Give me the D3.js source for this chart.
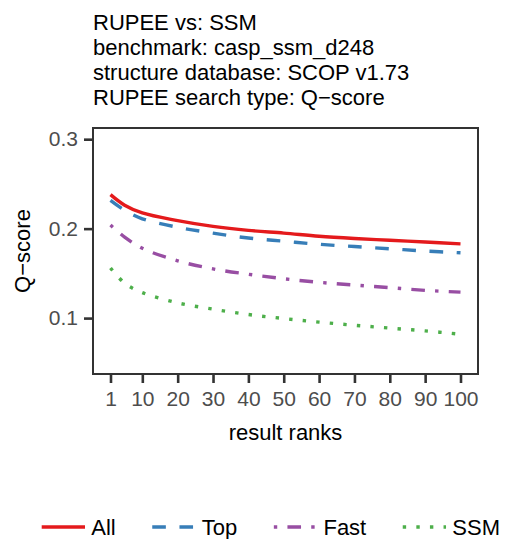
<!DOCTYPE html>
<html>
<head>
<meta charset="utf-8">
<script src="https://cdn.jsdelivr.net/npm/d3@7"></script>
<style>
  body { margin: 0; background: #fff; }
  svg text { font-family: "Liberation Sans", Arial, Helvetica, sans-serif; }
</style>
</head>
<body>
<div id="chart"></div>
<script>
// data
var ranks = [1, 5, 10, 20, 30, 40, 50, 60, 70, 80, 90, 100];
var allScores  = [0.238, 0.2262, 0.2175, 0.209, 0.2025, 0.198, 0.195, 0.1915, 0.189, 0.187, 0.185, 0.183];
var topScores  = [0.2315, 0.2205, 0.211, 0.2015, 0.195, 0.1895, 0.186, 0.1825, 0.180, 0.1775, 0.175, 0.173];
var fastScores = [0.204, 0.1905, 0.178, 0.164, 0.155, 0.149, 0.144, 0.140, 0.137, 0.134, 0.131, 0.129];
var ssmScores  = [0.156, 0.139, 0.1285, 0.117, 0.110, 0.104, 0.0995, 0.0955, 0.092, 0.0888, 0.0857, 0.082];
var seriesNames = ["All", "Top", "Fast", "SSM"];
var xTicks = [1, 10, 20, 30, 40, 50, 60, 70, 80, 90, 100];
var yTicks = [0.1, 0.2, 0.3];
var titleLines = ["RUPEE vs: SSM", "benchmark: casp_ssm_d248", "structure database: SCOP v1.73", "RUPEE search type: Q\u2212score"];

var width = 506, height = 539;
var colors = ["#E41A1C", "#377EB8", "#984EA3", "#4DAF4A"];
var lw = 3.4;
var dashes = [null, (4 * lw) + "," + (4 * lw), lw + "," + (3 * lw) + "," + (4 * lw) + "," + (3 * lw), lw + "," + (3 * lw)];

var svg = d3.select("#chart").append("svg")
    .attr("width", width)
    .attr("height", height);

var panelLeft = 93, panelRight = 478, panelTop = 128, panelBottom = 374;

// ggplot style 5% expansion, y limits 0.05..0.3
var xScale = d3.scaleLinear()
    .domain([1 - 4.95, 100 + 4.95])
    .range([panelLeft, panelRight]);
var yScale = d3.scaleLinear()
    .domain([0.0375, 0.3125])
    .range([panelBottom, panelTop]);

// title
svg.append("g").selectAll("text")
    .data(titleLines)
    .enter().append("text")
    .attr("x", panelLeft)
    .attr("y", function (d, i) { return 29.5 + 25 * i; })
    .attr("font-size", 22)
    .attr("fill", "#000")
    .text(function (d) { return d; });

// axes
var xAxis = svg.append("g")
    .attr("transform", "translate(0," + (panelBottom + 1) + ")")
    .call(d3.axisBottom(xScale).tickValues(xTicks).tickSize(8).tickPadding(8));
var yAxis = svg.append("g")
    .attr("transform", "translate(" + (panelLeft - 1) + ",0)")
    .call(d3.axisLeft(yScale).tickValues(yTicks).tickFormat(d3.format(".1f")).tickSize(8).tickPadding(6));

[xAxis, yAxis].forEach(function (ax) {
    ax.select(".domain").remove();
    ax.selectAll(".tick line").attr("stroke", "#333").attr("stroke-width", 2.6);
    ax.selectAll(".tick text")
        .attr("fill", "#4D4D4D")
        .attr("font-size", 21)
        .style("font-family", "Liberation Sans, Arial, sans-serif");
});

// lines
var line_generator = d3.line()
    .x(function (d) { return xScale(d.x); })
    .y(function (d) { return yScale(d.y); })
    .curve(d3.curveCatmullRom.alpha(0.5));

var allSeries = [allScores, topScores, fastScores, ssmScores];
var plot_g = svg.append("g");
for (let i in allSeries) {
    let line_data = ranks.map(function (r, j) { return { x: r, y: allSeries[i][j] }; });
    plot_g.append("path")
        .attr("d", line_generator(line_data))
        .attr("fill", "none")
        .attr("stroke", colors[i])
        .attr("stroke-width", lw)
        .attr("stroke-dasharray", dashes[i]);
}

// panel border
svg.append("rect")
    .attr("x", panelLeft)
    .attr("y", panelTop)
    .attr("width", panelRight - panelLeft)
    .attr("height", panelBottom - panelTop)
    .attr("fill", "none")
    .attr("stroke", "#333")
    .attr("stroke-width", 2);

// axis titles
svg.append("text")
    .attr("x", (panelLeft + panelRight) / 2)
    .attr("y", 440)
    .attr("text-anchor", "middle")
    .attr("font-size", 22)
    .text("result ranks");
svg.append("text")
    .attr("transform", "translate(30," + ((panelTop + panelBottom) / 2) + ") rotate(-90)")
    .attr("text-anchor", "middle")
    .attr("font-size", 22)
    .text("Q\u2212score");

// legend
var legend_g = svg.append("g");
let lx = 41.7, keyW = 43.3, ly = 527;
for (let i in seriesNames) {
    legend_g.append("line")
        .attr("x1", lx).attr("x2", lx + keyW)
        .attr("y1", ly).attr("y2", ly)
        .attr("stroke", colors[i])
        .attr("stroke-width", lw)
        .attr("stroke-dasharray", dashes[i]);
    let t = legend_g.append("text")
        .attr("x", lx + keyW + 6.3)
        .attr("y", ly + 7.5)
        .attr("font-size", 22)
        .text(seriesNames[i]);
    lx = lx + keyW + 6.3 + t.node().getComputedTextLength() + 36.5;
}
</script>
</body>
</html>
